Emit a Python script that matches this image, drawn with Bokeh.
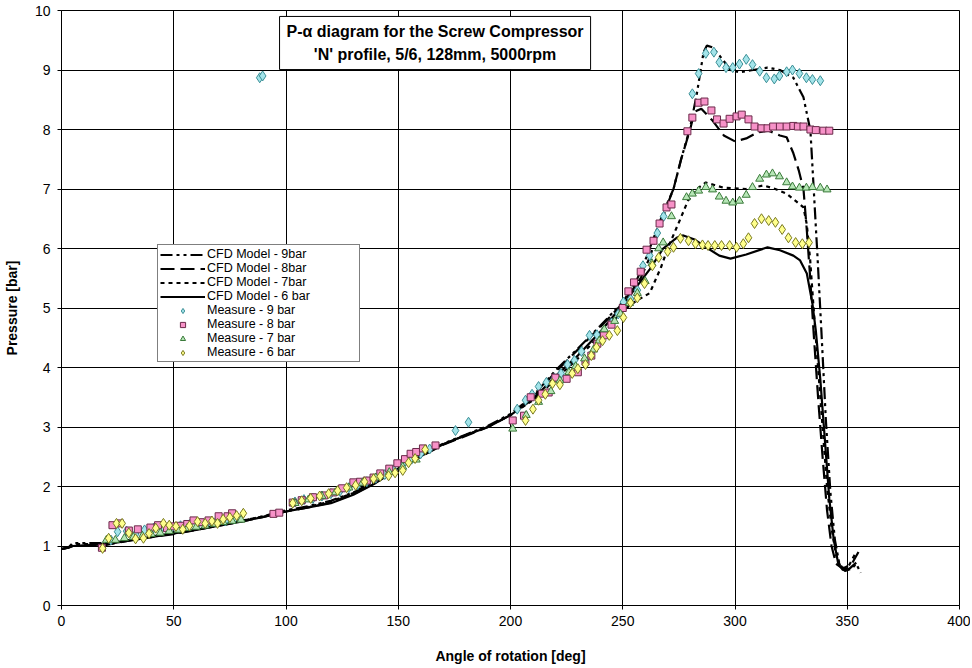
from bokeh.plotting import figure
from bokeh.models import Range1d, Legend, LegendItem, Label, FixedTicker
from bokeh.embed import file_html
from bokeh.resources import INLINE

# ---------------- data ----------------
X_TICKS = [0, 50, 100, 150, 200, 250, 300, 350, 400]
Y_TICKS = [0, 1, 2, 3, 4, 5, 6, 7, 8, 9, 10]

TITLE = "P-\u03b1 diagram for the Screw Compressor\n'N' profile, 5/6, 128mm, 5000rpm"
X_LABEL = "Angle of rotation [deg]"
Y_LABEL = "Pressure [bar]"

# CFD model curves
X_C9 = [0, 3, 5, 10, 15, 20, 22, 30, 40, 50, 60, 70, 80, 90, 100, 110, 120, 130, 140, 150,
        160, 170, 180, 190, 200, 210, 220, 230, 240, 250, 256, 260, 264, 268, 272.6, 276, 280, 283, 286, 287.5,
        290, 294, 298, 302, 308, 314.5, 320, 326, 330.5, 333.6, 336.7, 338.5, 340.5, 342.5, 344.5, 346.5, 349, 352, 354, 356]
Y_C9 = [0.95, 0.97, 1.05, 1.05, 1.05, 1.05, 1.04, 1.1, 1.16, 1.21, 1.28, 1.35, 1.42, 1.5, 1.6, 1.67, 1.76, 1.9, 2.1, 2.33,
        2.53, 2.72, 2.87, 3.02, 3.22, 3.52, 3.95, 4.32, 4.7, 5.1, 5.45, 5.8, 6.2, 6.6, 7.0, 7.5, 8.03, 8.6, 9.3, 9.41,
        9.38, 9.2, 9.0, 8.96, 9.0, 9.04, 9.0, 8.87, 8.54, 7.98, 5.9, 4.6, 3.1, 1.9, 1.1, 0.7, 0.58, 0.62, 0.7, 0.55]

X_C8 = [0, 3, 5, 10, 15, 20, 30, 40, 50, 60, 70, 80, 90, 100, 110, 120, 130, 140, 150, 160,
        170, 180, 190, 200, 210, 220, 230, 240, 250, 258, 262, 266, 270, 272.6, 276, 280, 282, 285, 290, 295,
        300, 305, 310, 315, 320, 323, 326, 328.5, 330.5, 332, 333.5, 335, 337, 339, 341, 343, 345, 348, 352, 355]
Y_C8 = [0.95, 0.97, 1.0, 1.0, 1.0, 1.02, 1.09, 1.15, 1.2, 1.27, 1.34, 1.41, 1.49, 1.58, 1.65, 1.73, 1.87, 2.07, 2.3, 2.5,
        2.7, 2.85, 3.0, 3.2, 3.5, 3.92, 4.3, 4.68, 5.08, 5.5, 5.85, 6.3, 6.75, 7.0, 7.5, 8.0, 8.3, 8.35, 8.15, 7.9,
        7.8, 7.85, 7.95, 7.98, 7.9, 7.87, 7.6, 7.3, 7.0, 6.3, 5.5, 4.6, 3.5, 2.5, 1.6, 1.0, 0.7, 0.62, 0.7, 0.9]

X_C7 = [0, 3, 5, 10, 15, 20, 30, 40, 50, 60, 70, 80, 90, 100, 110, 120, 130, 140, 150, 160,
        170, 180, 190, 200, 210, 220, 230, 240, 245, 250, 256, 262, 267, 270, 275.7, 279, 283, 287, 295, 305,
        312.7, 318, 323, 327, 330.5, 332, 333.5, 335, 337, 339, 341, 343, 345, 347, 350, 354]
Y_C7 = [0.95, 0.97, 1.03, 1.03, 1.03, 1.04, 1.1, 1.16, 1.21, 1.28, 1.35, 1.42, 1.5, 1.59, 1.66, 1.75, 1.89, 2.09, 2.32, 2.52,
        2.71, 2.86, 3.01, 3.2, 3.45, 3.8, 4.15, 4.55, 4.75, 4.95, 5.12, 5.25, 5.68, 6.0, 6.5, 6.8, 7.0, 7.11, 7.02, 7.0,
        7.06, 7.0, 6.92, 6.8, 6.69, 6.4, 5.8, 5.0, 4.0, 3.0, 2.0, 1.3, 0.85, 0.65, 0.62, 0.9]

X_C6 = [0, 3, 5, 10, 15, 20, 30, 40, 50, 60, 70, 80, 90, 100, 110, 120, 130, 140, 150, 160,
        170, 180, 190, 200, 210, 220, 230, 240, 250, 256, 262, 268, 274, 277, 282, 288, 293, 298, 305, 314.5,
        320, 326, 329, 332, 334.5, 336, 338, 340, 342, 344, 346, 348, 351, 354]
Y_C6 = [0.95, 0.97, 1.0, 1.01, 1.02, 1.03, 1.09, 1.15, 1.21, 1.27, 1.34, 1.41, 1.49, 1.58, 1.65, 1.72, 1.86, 2.06, 2.3, 2.51,
        2.71, 2.86, 3.0, 3.2, 3.47, 3.85, 4.2, 4.6, 5.05, 5.35, 5.65, 6.0, 6.18, 6.22, 6.15, 6.0, 5.88, 5.83, 5.9, 6.02,
        5.97, 5.88, 5.8, 5.58, 5.07, 4.62, 3.8, 2.8, 1.8, 1.1, 0.7, 0.6, 0.62, 0.72]

# Measurements
X_M9 = [22, 25, 29, 33, 37, 41, 45, 49, 53, 57, 61, 65, 69, 73, 77, 88.3, 89.6,
        104, 108, 112, 116, 120, 124, 128, 132, 136, 140, 144, 148, 152, 156, 160, 164,
        175.5, 181.3,
        203, 206.7, 209.6, 212.5, 216, 219.5, 222.5, 225.4, 228.5, 231.6, 235.2, 238.5, 241.8, 245, 248, 250.3,
        253.5, 256.5, 259, 262, 265.4, 268.2,
        281, 283.8, 287, 290.6, 293, 296, 299, 302, 305, 307.8, 311, 314, 317.5, 319.8, 323, 325.6, 328.7,
        331.8, 334.5, 338]
Y_M9 = [1.1, 1.24, 1.25, 1.2, 1.27, 1.3, 1.33, 1.3, 1.34, 1.36, 1.38, 1.4, 1.42, 1.42, 1.46, 8.87, 8.9,
        1.74, 1.78, 1.8, 1.84, 1.88, 1.92, 1.98, 2.03, 2.08, 2.14, 2.2, 2.28, 2.37, 2.46, 2.55, 2.63,
        2.94, 3.08,
        3.3, 3.45, 3.55, 3.68, 3.75, 3.82, 3.9, 4.05, 4.12, 4.27, 4.54, 4.55, 4.62, 4.75, 4.9, 5.1,
        5.15, 5.3, 5.71, 5.88, 6.26, 6.54,
        8.6, 8.94, 9.28, 9.3, 9.13, 9.04, 9.04, 9.1, 9.18, 9.09, 8.98, 8.87, 8.85, 8.9, 8.97, 9.0, 8.94,
        8.87, 8.84, 8.82]

X_M8 = [18, 22.7, 26, 30, 34, 39.6, 43, 47, 50, 53, 56, 58.8, 62, 65.5, 70, 74, 76, 94.4, 97,
        103, 107, 112, 117, 121, 125, 130, 133, 136, 139, 142, 146, 149.6, 153, 155.5, 158, 161, 166.6,
        201, 206, 209, 214, 217, 220, 225, 230, 233.4, 236, 238.7, 241.6, 245, 250, 252.5, 255, 258, 260.6,
        263.7, 266.4, 269.5, 271.7,
        278.8, 281, 283.8, 286.4, 289.5, 292, 294.9, 297.6, 300.7, 303, 306, 308.7, 311.8, 314.5, 317, 320,
        323, 326, 328, 330.5, 333.6, 336, 339.4, 342]
Y_M8 = [0.97, 1.35, 1.38, 1.26, 1.28, 1.31, 1.35, 1.3, 1.33, 1.34, 1.37, 1.43, 1.4, 1.43, 1.5, 1.5, 1.55, 1.54, 1.56,
        1.73, 1.77, 1.82, 1.85, 1.9, 1.97, 2.07, 2.08, 2.1, 2.15, 2.22, 2.3, 2.39, 2.46, 2.55, 2.58, 2.64, 2.69,
        3.11, 3.19, 3.5, 3.56, 3.58, 3.83, 3.81, 3.92, 4.1, 4.2, 4.4, 4.54, 4.72, 5.0, 5.28, 5.43, 5.61, 5.98,
        6.13, 6.42, 6.69, 6.74,
        7.97, 8.2, 8.45, 8.47, 8.32, 8.17, 8.1, 8.18, 8.22, 8.25, 8.17, 8.05, 8.02, 8.02, 8.05, 8.05,
        8.05, 8.06, 8.05, 8.05, 8.0, 7.99, 7.98, 7.98]

X_M7 = [20, 24, 28, 32, 36, 40, 44, 48, 52, 56, 60, 64, 68, 72, 76, 80,
        104, 110, 116, 122, 128, 134, 140, 146, 152, 158,
        201, 207, 212.5, 218, 222, 226, 229, 233, 237, 239.5, 241.8, 246.4, 249, 253, 256.5, 260, 263, 266, 268, 271.7,
        278.4, 281, 283.8, 287, 290, 293, 296, 299, 302, 305, 307.8, 311, 314, 316.7, 319.8, 323, 325.6, 328.7,
        331.8, 334.5, 338, 341]
Y_M7 = [1.1, 1.1, 1.13, 1.15, 1.17, 1.2, 1.22, 1.25, 1.27, 1.3, 1.32, 1.34, 1.37, 1.4, 1.42, 1.44,
        1.72, 1.78, 1.84, 1.9, 1.98, 2.06, 2.15, 2.24, 2.33, 2.45,
        2.97, 3.2, 3.42, 3.6, 3.78, 3.92, 4.02, 4.15, 4.3, 4.45, 4.64, 4.78, 4.9, 5.08, 5.25, 5.45, 5.75, 6.0, 6.1, 6.54,
        6.86, 6.92, 6.97, 7.03, 6.99, 6.87, 6.8, 6.77, 6.8, 6.9, 7.03, 7.17, 7.24, 7.26, 7.21, 7.11, 7.04, 7.02,
        7.02, 7.03, 7.02, 6.99]

X_M6 = [18.3, 21, 24.5, 27, 30, 33, 36.5, 39, 42, 45.4, 48, 51, 54, 57, 60.6, 64, 67, 69.5, 72, 75, 78, 81,
        103, 107, 111, 115, 119, 123, 127, 131, 135, 139, 142, 145.7, 148.6, 152, 154.6, 157.5, 162,
        206.7, 210, 212.5, 215.5, 218.7, 222, 227.5, 230, 233.4, 236, 238.3, 241, 244, 247.6, 250.3, 253.5,
        256.5, 259.7, 263.2, 266, 270,
        272.6, 275.7, 279.3, 282.4, 285.5, 288, 291, 294, 297.6, 300.7, 303.7, 306, 308.7, 311.8, 315, 318,
        321, 323.8, 327, 330, 333]
Y_M6 = [0.96, 1.13, 1.38, 1.38, 1.22, 1.12, 1.13, 1.21, 1.3, 1.38, 1.35, 1.33, 1.28, 1.34, 1.41, 1.38, 1.42, 1.38, 1.45, 1.48, 1.51, 1.55,
        1.72, 1.76, 1.8, 1.84, 1.88, 1.93, 1.98, 2.02, 2.08, 2.13, 2.17, 2.18, 2.23, 2.27, 2.4, 2.47, 2.62,
        3.11, 3.3, 3.45, 3.55, 3.73, 3.71, 3.9, 3.98, 4.05, 4.2, 4.34, 4.45, 4.54, 4.62, 4.84, 5.09,
        5.17, 5.41, 5.71, 5.85, 5.95,
        6.02, 6.17, 6.13, 6.08, 6.06, 6.05, 6.05, 6.05, 6.05, 6.02, 6.08, 6.18, 6.42, 6.5, 6.47, 6.44,
        6.32, 6.18, 6.1, 6.08, 6.1]

# ---------------- figure ----------------
FONT = "Liberation Sans"

p = figure(width=970, height=666, x_range=Range1d(0, 400), y_range=Range1d(0, 10),
           output_backend="svg", toolbar_location=None,
           min_border_left=61, min_border_right=11, min_border_top=10, min_border_bottom=61)
p.background_fill_color = "white"
p.border_fill_color = "white"
p.outline_line_color = "black"
p.outline_line_width = 1

p.xaxis.ticker = FixedTicker(ticks=X_TICKS)
p.yaxis.ticker = FixedTicker(ticks=Y_TICKS)
p.grid.grid_line_color = "black"
p.grid.grid_line_width = 1
p.axis.minor_tick_line_color = None
p.axis.major_tick_in = 0
p.axis.major_tick_out = 4
p.axis.axis_line_color = "black"
p.axis.major_tick_line_color = "black"
p.axis.major_label_text_font = FONT
p.axis.major_label_text_font_size = "14px"
p.axis.major_label_text_color = "black"
p.xaxis.major_label_standoff = 6
p.yaxis.major_label_standoff = 7
p.xaxis.axis_label = X_LABEL
p.yaxis.axis_label = Y_LABEL
p.axis.axis_label_text_font = FONT
p.axis.axis_label_text_font_size = "14px"
p.axis.axis_label_text_font_style = "bold"
p.axis.axis_label_text_color = "black"
p.xaxis.axis_label_standoff = 19
p.yaxis.axis_label_standoff = 12

LW = 2.2
r_c9 = p.line(X_C9, Y_C9, line_color="black", line_width=LW, line_dash="12 4 3 4 3 4")
r_c8 = p.line(X_C8, Y_C8, line_color="black", line_width=LW, line_dash="14 6")
r_c7 = p.line(X_C7, Y_C7, line_color="black", line_width=LW, line_dash="4 4")
r_c6 = p.line(X_C6, Y_C6, line_color="black", line_width=LW)

C9_FILL, C9_LINE = "#a3e4ea", "#3b8f96"
C8_FILL, C8_LINE = "#f792c8", "#6b2a4a"
C7_FILL, C7_LINE = "#b6e6b6", "#3a7a3a"
C6_FILL, C6_LINE = "#ffff8c", "#7a7a20"

r_m9 = p.scatter(X_M9, Y_M9, marker="diamond", size=10,
                 fill_color=C9_FILL, line_color=C9_LINE, line_width=1)
r_m8 = p.scatter(X_M8, Y_M8, marker="square", size=7,
                 fill_color=C8_FILL, line_color=C8_LINE, line_width=1)
r_m7 = p.scatter(X_M7, Y_M7, marker="triangle", size=8,
                 fill_color=C7_FILL, line_color=C7_LINE, line_width=1)
r_m6 = p.scatter(X_M6, Y_M6, marker="diamond", size=10,
                 fill_color=C6_FILL, line_color=C6_LINE, line_width=1)

legend = Legend(items=[
    LegendItem(label="CFD Model - 9bar", renderers=[r_c9]),
    LegendItem(label="CFD Model - 8bar", renderers=[r_c8]),
    LegendItem(label="CFD Model - 7bar", renderers=[r_c7]),
    LegendItem(label="CFD Model - 6 bar", renderers=[r_c6]),
    LegendItem(label="Measure - 9 bar", renderers=[r_m9]),
    LegendItem(label="Measure - 8 bar", renderers=[r_m8]),
    LegendItem(label="Measure - 7 bar", renderers=[r_m7]),
    LegendItem(label="Measure - 6 bar", renderers=[r_m6]),
], location=(96, 243), border_line_color="black", border_line_width=1,
   background_fill_color="white", background_fill_alpha=1.0,
   label_text_font=FONT, label_text_font_size="12.5px", label_text_color="black",
   glyph_width=45, glyph_height=13, label_height=13, label_width=150,
   spacing=0, padding=2, label_standoff=2, margin=0)
p.add_layout(legend)

title = Label(x=166.4, y=9.9, text=TITLE, text_align="center", text_baseline="top",
              text_font=FONT, text_font_style="bold", text_font_size="16px", text_color="black",
              text_line_height=1.3,
              background_fill_color="white", border_line_color="black", border_line_width=1,
              padding=7)
p.add_layout(title)

open("out.html", "w").write(file_html(p, INLINE))
